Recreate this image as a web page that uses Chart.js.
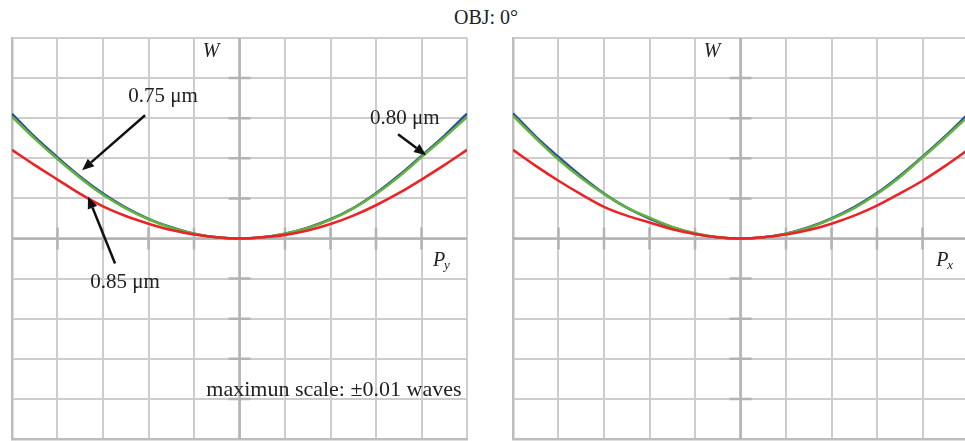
<!DOCTYPE html>
<html>
<head>
<meta charset="utf-8">
<script src="https://cdn.jsdelivr.net/npm/chart.js@4.4.1/dist/chart.umd.min.js"></script>
<style>
  html, body { margin: 0; padding: 0; background: #fff; overflow: hidden; }
  #wrap { position: relative; width: 965px; height: 441px; overflow: hidden; }
  #title { position: absolute; left: 386px; width: 200px; top: 5px; text-align: center;
           font: 20px 'Liberation Serif', serif; line-height: 24px; color: #222; }
  canvas { position: absolute; top: 0; }
</style>
</head>
<body>
<div id="wrap">
  <div id="title">OBJ: 0°</div>
  <canvas id="py" width="480" height="441" style="left:0px"></canvas>
  <canvas id="px" width="480" height="441" style="left:500px"></canvas>
</div>
<script>
// normalized pupil coordinate
const pupil = [-1, -0.9, -0.8, -0.7, -0.6, -0.5, -0.4, -0.3, -0.2, -0.1, 0,
               0.1, 0.2, 0.3, 0.4, 0.5, 0.6, 0.7, 0.8, 0.9, 1]

// wavefront error W (waves), tangential fan (Py)
const py075 = [0.00622, 0.00506, 0.00404, 0.00308, 0.00224, 0.00154, 0.00098, 0.00056, 0.00024, 0.00006, 0,
               0.00006, 0.00024, 0.00054, 0.00096, 0.00152, 0.00226, 0.00314, 0.00412, 0.00512, 0.00622]
const py080 = [0.00608, 0.00498, 0.00396, 0.00302, 0.00218, 0.0015, 0.00096, 0.00054, 0.00024, 0.00006, 0,
               0.00006, 0.00024, 0.00052, 0.00094, 0.0015, 0.00222, 0.00308, 0.00406, 0.00504, 0.00606]
const py085 = [0.00442, 0.00366, 0.00294, 0.00222, 0.0016, 0.00112, 0.00074, 0.00042, 0.0002, 0.00006, 0,
               0.00006, 0.00018, 0.0004, 0.00072, 0.00114, 0.00166, 0.00226, 0.00294, 0.00366, 0.00442]

// sagittal fan (Px)
const px075 = [0.00624, 0.00508, 0.00406, 0.0031, 0.00224, 0.00154, 0.001, 0.00056, 0.00024, 0.00006, 0,
               0.00006, 0.00024, 0.00056, 0.001, 0.00156, 0.00226, 0.00312, 0.00408, 0.0051, 0.0062]
const px080 = [0.00612, 0.005, 0.00394, 0.00302, 0.00222, 0.00154, 0.00104, 0.00058, 0.00026, 0.00006, 0,
               0.00006, 0.00024, 0.00054, 0.00098, 0.00152, 0.00222, 0.00306, 0.00404, 0.00504, 0.00608]
const px085 = [0.00442, 0.00362, 0.00288, 0.0022, 0.00158, 0.00114, 0.0008, 0.00046, 0.00022, 0.00006, 0,
               0.00006, 0.0002, 0.00042, 0.00074, 0.00114, 0.00164, 0.00224, 0.00288, 0.00362, 0.00442]

const wavelengths = ['0.75 μm', '0.80 μm', '0.85 μm']
const colors = ['#2b4a9e', '#62b23e', '#ec2326']
const scaleNote = 'maximun scale: ±0.01 waves'

const pts = arr => arr.map((v, i) => ({ x: pupil[i], y: v }))

const crossAxes = {
  id: 'crossAxes',
  beforeDatasetsDraw(chart) {
    const { ctx, scales: { x, y } } = chart
    const x0 = x.getPixelForValue(0), y0 = y.getPixelForValue(0)
    ctx.save()
    ctx.strokeStyle = '#b3b3b3'
    ctx.lineWidth = 2.5
    ctx.beginPath()
    ctx.moveTo(x0, y.top); ctx.lineTo(x0, y.bottom)
    ctx.moveTo(x.left, y0); ctx.lineTo(x.right, y0)
    y.ticks.forEach((t, i) => {
      if (i === 0 || i === y.ticks.length - 1 || Math.abs(t.value) < 1e-9) return
      const p = y.getPixelForValue(t.value)
      ctx.moveTo(x0 - 11, p); ctx.lineTo(x0 + 11, p)
    })
    x.ticks.forEach((t, i) => {
      if (i === 0 || i === x.ticks.length - 1 || Math.abs(t.value) < 1e-9) return
      const p = x.getPixelForValue(t.value)
      ctx.moveTo(p, y0 - 11); ctx.lineTo(p, y0 + 11)
    })
    ctx.stroke()
    ctx.restore()
  }
}

const notes = {
  id: 'notes',
  afterDraw(chart, args, opts) {
    const { ctx, scales: { x, y } } = chart
    const X = v => x.getPixelForValue(v), Y = v => y.getPixelForValue(v)
    ctx.save()
    ctx.fillStyle = '#222'
    ctx.textBaseline = 'middle'
    // W axis label
    ctx.font = "italic 20px 'Liberation Serif', serif"
    ctx.textAlign = 'center'
    ctx.fillText('W', X(-0.125), Y(0.0093))
    // pupil axis label with subscript
    ctx.textAlign = 'left'
    ctx.fillText('P', X(opts.axisX), Y(-0.0011))
    const pw = ctx.measureText('P').width
    ctx.font = "italic 13px 'Liberation Serif', serif"
    ctx.fillText(opts.sub, X(opts.axisX) + pw - 1, Y(-0.0011) + 5)

    ctx.font = "21px 'Liberation Serif', serif"
    ctx.textAlign = 'center'
    ;(opts.labels || []).forEach(l => ctx.fillText(l.text, X(l.x), Y(l.y)))
    if (opts.scaleNote) {
      ctx.font = "22px 'Liberation Serif', serif"
      ctx.textAlign = 'right'
      ctx.fillText(opts.scaleNote, X(0.976), Y(-0.00755))
    }
    ctx.strokeStyle = '#111'
    ctx.fillStyle = '#111'
    ctx.lineWidth = 2.5
    ;(opts.arrows || []).forEach(a => {
      const x1 = X(a.from[0]), y1 = Y(a.from[1]), x2 = X(a.to[0]), y2 = Y(a.to[1])
      const ang = Math.atan2(y2 - y1, x2 - x1)
      const hl = 12, hw = 5
      const bx = x2 - hl * Math.cos(ang), by = y2 - hl * Math.sin(ang)
      ctx.beginPath()
      ctx.moveTo(x1, y1); ctx.lineTo(bx, by)
      ctx.stroke()
      ctx.beginPath()
      ctx.moveTo(x2, y2)
      ctx.lineTo(bx + hw * Math.sin(ang), by - hw * Math.cos(ang))
      ctx.lineTo(bx - hw * Math.sin(ang), by + hw * Math.cos(ang))
      ctx.closePath()
      ctx.fill()
    })
    ctx.restore()
  }
}

function makeChart(id, series, padding, noteOpts) {
  const datasets = [2, 1, 0].map(k => ({
    label: wavelengths[k],
    data: pts(series[k]),
    borderColor: colors[k],
    borderWidth: 2.6,
    pointRadius: 0,
    showLine: true,
    fill: false,
    cubicInterpolationMode: 'monotone'
  }))
  return new Chart(document.getElementById(id), {
    type: 'scatter',
    data: { datasets },
    options: {
      responsive: false,
      animation: false,
      layout: { padding },
      plugins: { legend: { display: false }, tooltip: { enabled: false }, notes: noteOpts },
      scales: {
        x: {
          type: 'linear', min: -1, max: 1,
          ticks: { display: false, stepSize: 0.2 },
          grid: { color: '#cdcdcd', lineWidth: 2, drawTicks: false },
          border: { display: true, color: '#bdbdbd', width: 2.5 }
        },
        y: {
          type: 'linear', min: -0.01, max: 0.01,
          ticks: { display: false, stepSize: 0.002 },
          grid: { color: '#cdcdcd', lineWidth: 2, drawTicks: false },
          border: { display: true, color: '#bdbdbd', width: 2.5 }
        }
      }
    },
    plugins: [crossAxes, notes]
  })
}

makeChart('py', [py075, py080, py085], { left: 12, top: 38, right: 13, bottom: 2 }, {
  axisX: 0.85, sub: 'y',
  labels: [
    { text: wavelengths[0], x: -0.336, y: 0.0071 },
    { text: wavelengths[1], x: 0.727, y: 0.006 },
    { text: wavelengths[2], x: -0.503, y: -0.0022 }
  ],
  arrows: [
    { from: [-0.415, 0.00615], to: [-0.692, 0.0034] },
    { from: [0.697, 0.0052], to: [0.82, 0.00415] },
    { from: [-0.547, -0.00125], to: [-0.666, 0.0021] }
  ],
  scaleNote
})

makeChart('px', [px075, px080, px085], { left: 13, top: 38, right: 12, bottom: 2 }, {
  axisX: 0.86, sub: 'x'
})
</script>
</body>
</html>
